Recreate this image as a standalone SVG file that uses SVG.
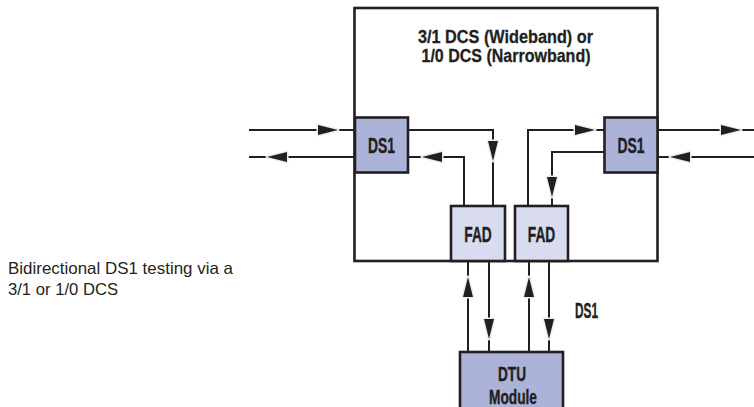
<svg xmlns="http://www.w3.org/2000/svg" xmlns:xlink="http://www.w3.org/1999/xlink" width="754" height="407" viewBox="0 0 754 407">
<style>
.box{stroke:#231f20;stroke-width:2.6}
.dark{fill:#abb3d8}
.light{fill:#d9dcee}
.frame{fill:none;stroke:#231f20;stroke-width:2.6}
.wire{fill:none;stroke:#231f20;stroke-width:2}
.lbl{font-family:"Liberation Sans",Arial,sans-serif;font-weight:bold;font-size:22px;fill:#231f20;stroke:#231f20;stroke-width:0.4;text-anchor:middle}
.sm{font-size:20px}
.title{font-family:"Liberation Sans",Arial,sans-serif;font-weight:bold;font-size:19px;fill:#231f20;stroke:#231f20;stroke-width:0.3;text-anchor:middle}
.cap{font-family:"Liberation Sans",Arial,sans-serif;font-size:16.5px;fill:#231f20}
.ah{fill:#231f20;stroke:#eceef6;stroke-width:3;paint-order:stroke;stroke-linejoin:round}
</style>
<defs>
<polygon id="arr" class="ah" points="10,0 -10,-5 -10,5"/>
</defs>
<rect width="754" height="407" fill="#ffffff"/>

<g id="dcs">
<rect class="frame" x="354.5" y="8" width="303" height="253"/>
<text class="title" x="505.5" y="43" textLength="175" lengthAdjust="spacingAndGlyphs">3/1 DCS (Wideband) or</text>
<text class="title" x="506" y="62" textLength="169" lengthAdjust="spacingAndGlyphs">1/0 DCS (Narrowband)</text>
</g>

<g id="connectors">
<line class="wire" x1="249" y1="130" x2="355" y2="130"/>
<line class="wire" x1="249" y1="157" x2="355" y2="157"/>
<polyline class="wire" points="408,130 493,130 493,206"/>
<polyline class="wire" points="408,157 464,157 464,206"/>
<polyline class="wire" points="528,206 528,130 604,130"/>
<polyline class="wire" points="604,152 552,152 552,206"/>
<line class="wire" x1="658" y1="130" x2="754" y2="130"/>
<line class="wire" x1="658" y1="157" x2="754" y2="157"/>
<line class="wire" x1="468" y1="261" x2="468" y2="352"/>
<line class="wire" x1="489" y1="261" x2="489" y2="352"/>
<line class="wire" x1="529" y1="261" x2="529" y2="352"/>
<line class="wire" x1="549" y1="261" x2="549" y2="352"/>
<use xlink:href="#arr" transform="translate(328,130)"/>
<use xlink:href="#arr" transform="translate(277,157) rotate(180)"/>
<use xlink:href="#arr" transform="translate(493,151) rotate(90)"/>
<use xlink:href="#arr" transform="translate(432,157) rotate(180)"/>
<use xlink:href="#arr" transform="translate(585,130)"/>
<use xlink:href="#arr" transform="translate(552,187) rotate(90)"/>
<use xlink:href="#arr" transform="translate(731,130)"/>
<use xlink:href="#arr" transform="translate(680,157) rotate(180)"/>
<use xlink:href="#arr" transform="translate(468,287) rotate(-90)"/>
<use xlink:href="#arr" transform="translate(529,287) rotate(-90)"/>
<use xlink:href="#arr" transform="translate(489,329) rotate(90)"/>
<use xlink:href="#arr" transform="translate(549,329) rotate(90)"/>
</g>

<g id="ds1-left">
<rect class="box dark" x="355" y="117.5" width="53" height="55"/>
<text class="lbl" x="381.5" y="153" textLength="27" lengthAdjust="spacingAndGlyphs">DS1</text>
</g>
<g id="ds1-right">
<rect class="box dark" x="604.5" y="117.5" width="53" height="55"/>
<text class="lbl" x="631" y="153" textLength="27" lengthAdjust="spacingAndGlyphs">DS1</text>
</g>
<g id="fad-left">
<rect class="box light" x="451" y="206" width="54" height="55"/>
<text class="lbl" x="478" y="241.5" textLength="27.5" lengthAdjust="spacingAndGlyphs">FAD</text>
</g>
<g id="fad-right">
<rect class="box light" x="515" y="206" width="53" height="55"/>
<text class="lbl" x="541.5" y="241.5" textLength="27.5" lengthAdjust="spacingAndGlyphs">FAD</text>
</g>
<g id="dtu">
<rect class="box dark" x="460" y="352" width="103" height="70"/>
<text class="lbl sm" x="512" y="380.5" textLength="28" lengthAdjust="spacingAndGlyphs">DTU</text>
<text class="lbl sm" x="513" y="403.5" textLength="48" lengthAdjust="spacingAndGlyphs">Module</text>
</g>
<g id="ds1-label">
<text class="lbl" x="586.5" y="318" textLength="23" lengthAdjust="spacingAndGlyphs">DS1</text>
</g>
<g id="caption">
<text class="cap" x="8" y="274" textLength="225" lengthAdjust="spacingAndGlyphs">Bidirectional DS1 testing via a</text>
<text class="cap" x="8" y="295" textLength="110" lengthAdjust="spacingAndGlyphs">3/1 or 1/0 DCS</text>
</g>
</svg>
